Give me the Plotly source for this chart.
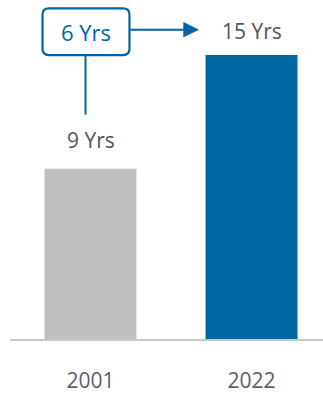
import plotly.graph_objects as go

categories = ["2001", "2022"]
values = [9, 15]
bar_colors = ["#BFBFBF", "#0066A1"]
value_labels = ["9 Yrs", "15 Yrs"]
diff_label = f"{values[1] - values[0]} Yrs"

BLUE = "#0066A1"
FONT = "Open Sans, Segoe UI, sans-serif"

fig = go.Figure()
fig.add_trace(go.Bar(
    x=[0, 1], y=values, marker=dict(color=bar_colors, line=dict(width=0)),
    width=0.571, hoverinfo="skip", showlegend=False,
))

# value labels
shifts = [29, 24]
for i, (v, lab) in enumerate(zip(values, value_labels)):
    fig.add_annotation(x=i, y=v, text=lab, showarrow=False, yshift=shifts[i],
                       font=dict(family=FONT, size=21, color="#555555"))

# difference box (rounded), positioned relative to data
x0, x1 = -0.298, 0.242
y0, y1 = values[1], values[1] + 2.47
rx, ry = 0.04, 0.33
path = (f"M {x0+rx},{y0} L {x1-rx},{y0} Q {x1},{y0} {x1},{y0+ry} "
        f"L {x1},{y1-ry} Q {x1},{y1} {x1-rx},{y1} L {x0+rx},{y1} "
        f"Q {x0},{y1} {x0},{y1-ry} L {x0},{y0+ry} Q {x0},{y0} {x0+rx},{y0} Z")
fig.add_shape(type="path", path=path, line=dict(color=BLUE, width=2.2),
              fillcolor="white", xref="x", yref="y")
fig.add_annotation(x=(x0 + x1) / 2, y=(y0 + y1) / 2, text=diff_label, showarrow=False,
                   font=dict(family=FONT, size=22, color=BLUE))

# connector from box down toward 2001 label
xc = -0.031
fig.add_shape(type="line", x0=xc, x1=xc, y0=y0, y1=values[0] + 2.86,
              line=dict(color=BLUE, width=2), xref="x", yref="y")
# arrow from box to 2022 label
ya = values[1] + 1.34
xh0, xh1 = 0.578, 0.671
fig.add_shape(type="line", x0=x1, x1=xh0 + 0.01, y0=ya, y1=ya,
              line=dict(color=BLUE, width=2), xref="x", yref="y")
hh = 0.39
fig.add_shape(type="path", path=f"M {xh0},{ya-hh} L {xh1},{ya} L {xh0},{ya+hh} Z",
              fillcolor=BLUE, line=dict(color=BLUE, width=0.5), xref="x", yref="y")

fig.update_layout(
    width=323, height=394,
    margin=dict(l=10, r=0, t=0, b=47),
    paper_bgcolor="white", plot_bgcolor="white",
    bargap=0.43,
    xaxis=dict(range=[-0.5, 1.444], tickmode="array", tickvals=[0, 1], ticktext=categories,
               showline=True, linecolor="#C8C8C8", linewidth=2, showgrid=False,
               zeroline=False, ticks="", ticklabelstandoff=22,
               tickfont=dict(family=FONT, size=21, color="#5A606E")),
    yaxis=dict(range=[0, 17.91], visible=False, showgrid=False, zeroline=False),
)

fig.write_html("out.html")
